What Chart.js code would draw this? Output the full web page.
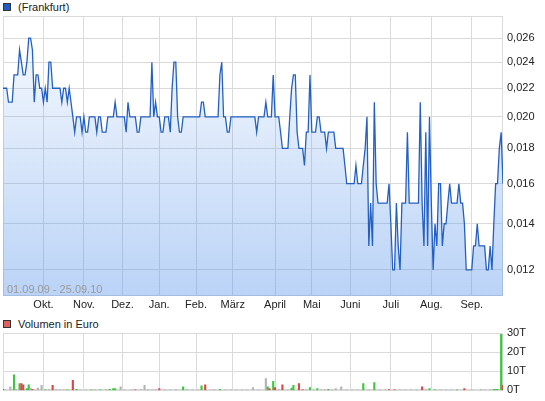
<!DOCTYPE html>
<html>
<head>
<meta charset="utf-8">
<script src="https://cdn.jsdelivr.net/npm/chart.js@4.4.1/dist/chart.umd.min.js"></script>
<style>
  body { margin: 0; background: #fff; font-family: "Liberation Sans", Arial, sans-serif; }
  #wrap { position: relative; width: 545px; height: 401px; overflow: hidden; }
  canvas { position: absolute; left: 0; }
  .legend { position: absolute; left: 3px; font-size: 11px; line-height: 13px; color: #222; white-space: nowrap; }
  .legend i { display: inline-block; width: 6px; height: 6px; border: 1px solid #333; margin-right: 7px; vertical-align: 0px; }
  #range { position: absolute; left: 7px; top: 283px; font-size: 11px; line-height: 13px; color: #9a9a9a; }
</style>
</head>
<body>
<div id="wrap">
  <div class="legend" style="top:1px"><i style="background:#1f5bc0"></i>(Frankfurt)</div>
  <canvas id="price" width="545" height="312" style="top:0"></canvas>
  <div id="range">01.09.09 - 25.09.10</div>
  <div class="legend" style="top:318px"><i style="background:#e06060"></i>Volumen in Euro</div>
  <canvas id="volume" width="545" height="89" style="top:312px"></canvas>
</div>
<script>
// month starts, as trading day index
const monthLabels = ['Okt.', 'Nov.', 'Dez.', 'Jan.', 'Feb.', 'März', 'April', 'Mai', 'Juni', 'Juli', 'Aug.', 'Sep.'];
const monthStart = [22, 44, 65, 85, 105, 125, 148, 168, 189, 211, 233, 255];
const priceTicks = [0.012, 0.014, 0.016, 0.018, 0.020, 0.022, 0.024, 0.026];
const volumeTicks = [0, 10, 20, 30];

// closing price per trading day, 01.09.09 - 25.09.10
const prices = [
  0.022, 0.022, 0.022, 0.021, 0.021, 0.021, 0.023, 0.023, 0.023, 0.025,
  0.024, 0.023, 0.023, 0.024, 0.026, 0.026, 0.025, 0.021, 0.023, 0.023,
  0.022, 0.022, 0.021, 0.022, 0.021, 0.024, 0.024, 0.022, 0.022, 0.022,
  0.022, 0.022, 0.021, 0.022, 0.022, 0.021, 0.022, 0.021, 0.020, 0.019,
  0.020, 0.020, 0.020, 0.019, 0.020, 0.019, 0.019, 0.020, 0.020, 0.020,
  0.020, 0.019, 0.020, 0.020, 0.019, 0.019, 0.019, 0.020, 0.020, 0.020,
  0.020, 0.021, 0.020, 0.020, 0.020, 0.020, 0.020, 0.019, 0.021, 0.020,
  0.020, 0.020, 0.020, 0.019, 0.019, 0.020, 0.020, 0.020, 0.020, 0.020,
  0.020, 0.024, 0.020, 0.021, 0.020, 0.020, 0.019, 0.019, 0.020, 0.020,
  0.020, 0.019, 0.022, 0.024, 0.024, 0.020, 0.019, 0.019, 0.020, 0.020,
  0.020, 0.020, 0.020, 0.020, 0.020, 0.020, 0.020, 0.020, 0.021, 0.021,
  0.020, 0.020, 0.020, 0.020, 0.020, 0.020, 0.020, 0.020, 0.023, 0.024,
  0.020, 0.020, 0.019, 0.019, 0.020, 0.020, 0.020, 0.020, 0.020, 0.020,
  0.020, 0.020, 0.020, 0.020, 0.020, 0.020, 0.020, 0.020, 0.019, 0.020,
  0.020, 0.020, 0.020, 0.021, 0.020, 0.020, 0.020, 0.023, 0.020, 0.020,
  0.020, 0.019, 0.018, 0.018, 0.018, 0.018, 0.020, 0.022, 0.023, 0.023,
  0.019, 0.018, 0.018, 0.018, 0.017, 0.019, 0.019, 0.023, 0.019, 0.019,
  0.019, 0.020, 0.020, 0.019, 0.019, 0.019, 0.018, 0.019, 0.019, 0.019,
  0.019, 0.018, 0.018, 0.018, 0.018, 0.018, 0.017, 0.016, 0.016, 0.016,
  0.016, 0.016, 0.017, 0.016, 0.016, 0.016, 0.017, 0.018, 0.020, 0.013,
  0.015, 0.013, 0.021, 0.016, 0.015, 0.015, 0.015, 0.015, 0.015, 0.015,
  0.016, 0.014, 0.012, 0.012, 0.015, 0.013, 0.012, 0.015, 0.015, 0.015,
  0.019, 0.015, 0.015, 0.015, 0.015, 0.015, 0.015, 0.021, 0.015, 0.013,
  0.019, 0.013, 0.020, 0.015, 0.012, 0.014, 0.013, 0.016, 0.016, 0.013,
  0.014, 0.014, 0.015, 0.016, 0.015, 0.015, 0.015, 0.015, 0.016, 0.015,
  0.015, 0.014, 0.012, 0.012, 0.012, 0.012, 0.013, 0.013, 0.014, 0.013,
  0.013, 0.013, 0.013, 0.012, 0.012, 0.013, 0.012, 0.014, 0.016, 0.016,
  0.018, 0.019, 0.016
];

// volume in thousand euro: trading day index, amount, 1 up / -1 down / 0 unchanged
const volDay = [0, 1, 4, 6, 7, 9, 10, 11, 13, 14, 15, 16, 17, 19, 21, 23, 25, 27, 29, 31,
  33, 35, 38, 40, 42, 45, 48, 50, 53, 56, 58, 60, 61, 64, 66, 70, 72, 75, 77, 79,
  81, 83, 85, 88, 91, 94, 98, 100, 103, 106, 108, 110, 113, 115, 118, 121, 124, 127, 130, 133,
  136, 139, 143, 144, 145, 147, 148, 150, 152, 155, 157, 158, 161, 163, 165, 167, 169, 171, 173, 175,
  177, 179, 181, 184, 187, 190, 193, 196, 199, 202, 205, 208, 210, 213, 216, 219, 222, 225, 228, 230,
  232, 235, 238, 241, 244, 247, 251, 255, 260, 262, 265, 267, 268, 269, 271, 272];
const volK = [0.5, 0.3, 1.9, 8.2, 0.5, 3.6, 3.6, 2.9, 0.9, 2.9, 1.2, 0.6, 0.3, 1.2, 2.6, 0.3, 0.4, 2.6, 0.4, 0.3,
  0.3, 0.3, 5.2, 0.6, 0.3, 0.3, 0.3, 0.3, 0.3, 0.4, 0.5, 1.0, 1.0, 1.9, 0.3, 0.3, 0.3, 0.4, 2.6, 0.4,
  0.3, 0.4, 1.0, 0.3, 0.3, 0.4, 1.9, 0.4, 0.3, 0.3, 2.4, 2.9, 0.3, 0.4, 0.5, 0.3, 0.3, 0.3, 0.3, 0.3,
  1.5, 0.3, 6.2, 1.9, 1.0, 4.7, 1.5, 0.4, 2.9, 0.3, 1.2, 2.6, 3.6, 0.4, 0.3, 1.5, 0.3, 0.9, 0.3, 0.4,
  0.5, 0.3, 0.9, 1.9, 0.3, 0.3, 0.3, 3.6, 0.3, 4.1, 0.3, 0.3, 0.4, 0.3, 0.3, 0.3, 0.3, 0.3, 1.9, 0.4,
  0.9, 0.3, 0.3, 0.3, 0.3, 0.3, 1.0, 0.3, 0.4, 0.3, 0.3, 0.5, 0.5, 0.5, 29.3, 2.6];
const volTrend = [-1, 0, 0, 1, 0, 1, -1, -1, 1, 1, 0, -1, 0, 0, 0, 1, 0, -1, 0, 0,
  0, 1, -1, 1, 0, 0, 1, 0, 1, 0, 1, 1, 1, 0, 0, 0, -1, 0, 0, 0,
  0, 0, -1, 0, 0, 0, 1, 0, 0, 0, 1, -1, 0, 0, 1, 0, 0, 0, 0, 0,
  0, 0, 0, 1, -1, 1, -1, 0, -1, 0, 1, 1, -1, -1, 0, 1, 0, 1, 0, 0,
  1, 0, 0, 0, 0, 0, 0, 1, 0, 1, 0, 0, -1, -1, 0, 0, 0, 0, -1, 0,
  1, 1, 0, 0, 0, 1, -1, 0, 0, 0, 0, 1, 1, 1, 1, -1];

const font = { family: '"Liberation Sans", Arial, sans-serif', size: 11 };
const gridColor = '#dadada';

// light frame round the plot area
const box = {
  id: 'box',
  beforeDatasetsDraw(chart) {
    const { ctx, chartArea: a } = chart;
    ctx.save();
    ctx.strokeStyle = gridColor;
    ctx.lineWidth = 1;
    ctx.strokeRect(Math.round(a.left) + 0.5, Math.round(a.top) + 0.5, Math.round(a.width) - 1, Math.round(a.height) - 1);
    ctx.restore();
  }
};

const monthTicks = s => { s.ticks = monthStart.map(v => ({ value: v })); };

new Chart(document.getElementById('price'), {
  type: 'line',
  data: {
    datasets: [{
      data: prices.map((p, i) => ({ x: i, y: p })),
      borderColor: '#2460c2',
      borderWidth: 1.3,
      pointRadius: 0,
      tension: 0,
      fill: 'start',
      backgroundColor: c => {
        const a = c.chart.chartArea;
        if (!a) return 'rgba(90,150,235,0.2)';
        const g = c.chart.ctx.createLinearGradient(0, a.top, 0, a.bottom);
        g.addColorStop(0, 'rgba(90,150,235,0.04)');
        g.addColorStop(1, 'rgba(90,150,235,0.42)');
        return g;
      }
    }]
  },
  options: {
    responsive: false,
    animation: false,
    layout: { padding: { left: 3, top: 16, right: 0, bottom: 0 } },
    plugins: { legend: { display: false }, tooltip: { enabled: false } },
    scales: {
      x: {
        type: 'linear', min: 0, max: 272, bounds: 'data',
        afterBuildTicks: monthTicks,
        afterFit: s => { s.height = 16; },
        grid: { color: gridColor, drawTicks: false },
        border: { display: false },
        ticks: {
          autoSkip: false, maxRotation: 0, padding: 2, color: '#222', font,
          callback: v => monthLabels[monthStart.indexOf(v)]
        }
      },
      y: {
        type: 'logarithmic', position: 'right', min: 0.011, max: 0.028, bounds: 'data',
        afterBuildTicks: s => { s.ticks = priceTicks.map(v => ({ value: v })); },
        afterFit: s => { s.width = 42; },
        grid: { color: gridColor, drawTicks: false },
        border: { display: false },
        ticks: { padding: 4, color: '#222', font, callback: v => v.toFixed(3).replace('.', ',') }
      }
    }
  },
  plugins: [box]
});

new Chart(document.getElementById('volume'), {
  type: 'bar',
  data: {
    datasets: [{
      data: volDay.map((d, i) => ({ x: d, y: volK[i] })),
      backgroundColor: volTrend.map(t => t > 0 ? '#3cc83c' : t < 0 ? '#dc4848' : '#b4b4b4'),
      barThickness: 1.5,
      borderWidth: 0
    }]
  },
  options: {
    responsive: false,
    animation: false,
    layout: { padding: { left: 3, top: 21, right: 0, bottom: 0 } },
    plugins: { legend: { display: false }, tooltip: { enabled: false } },
    scales: {
      x: {
        type: 'linear', min: 0, max: 272, bounds: 'data', offset: false,
        afterBuildTicks: monthTicks,
        afterFit: s => { s.height = 7; },
        grid: { color: gridColor, drawTicks: false, offset: false },
        border: { display: false },
        ticks: { display: false }
      },
      y: {
        position: 'right', min: 0, max: 30,
        afterBuildTicks: s => { s.ticks = volumeTicks.map(v => ({ value: v })); },
        afterFit: s => { s.width = 42; },
        grid: { color: gridColor, drawTicks: false },
        border: { display: false },
        ticks: { padding: 4, color: '#222', font, callback: v => v + 'T' }
      }
    }
  },
  plugins: [box]
});
</script>
</body>
</html>
